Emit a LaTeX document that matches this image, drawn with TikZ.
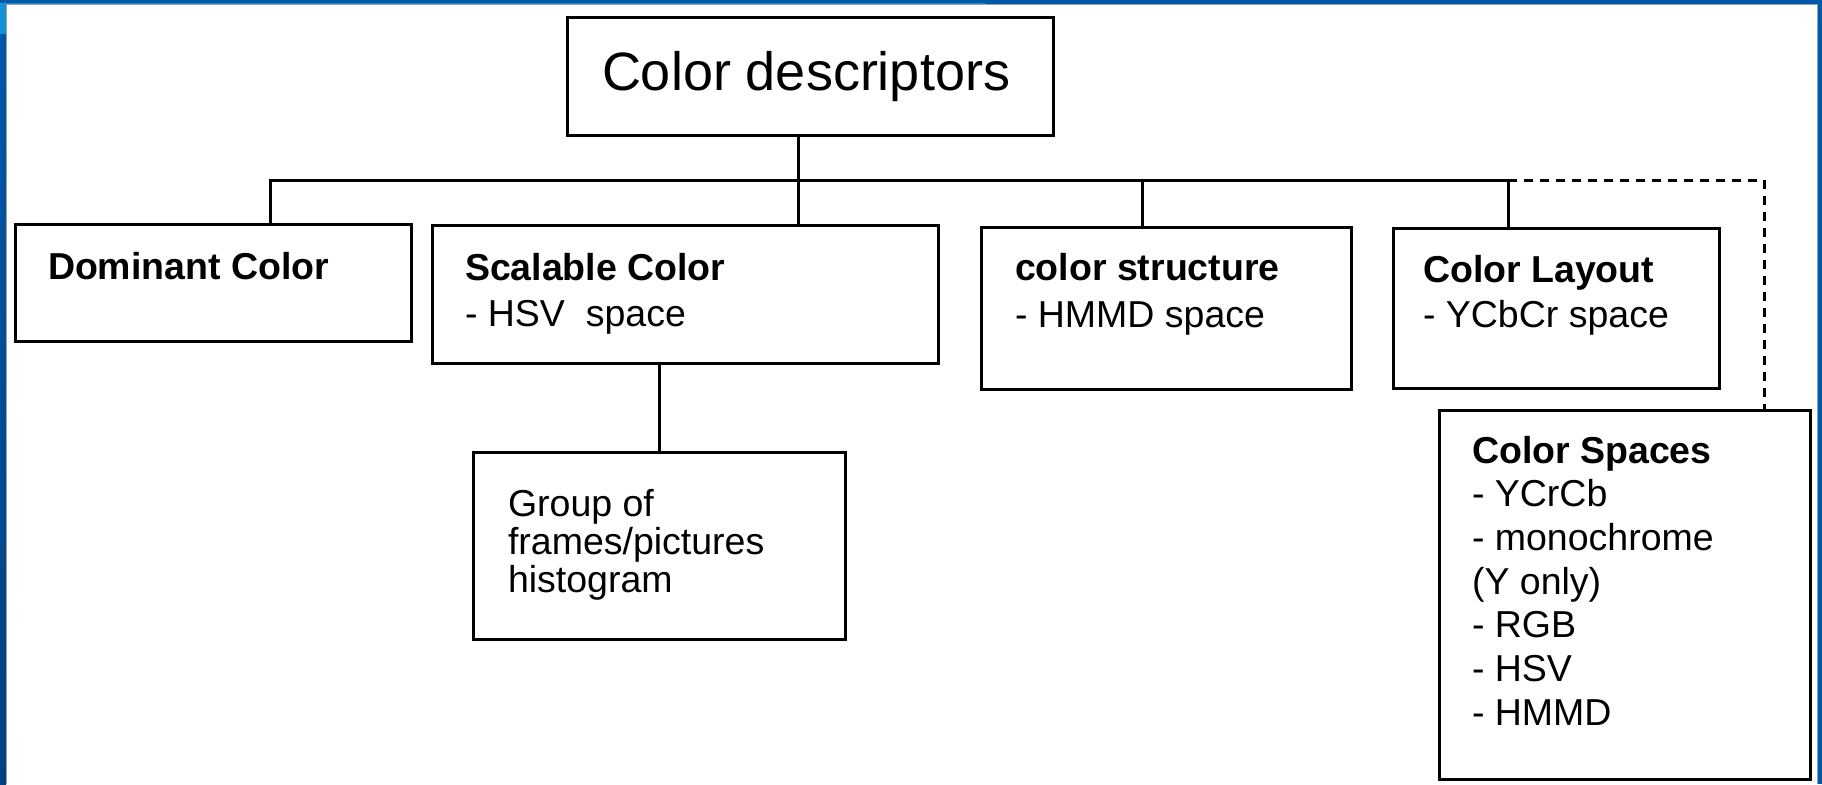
\documentclass[tikz,border=0pt]{standalone}
\usepackage{fontspec}
\setmainfont{Liberation Sans}
\usetikzlibrary{calc}
\definecolor{frameblue}{RGB}{0,88,168}
\definecolor{framelight}{RGB}{20,144,212}
\definecolor{framedark}{RGB}{0,64,128}
\definecolor{framegray}{RGB}{150,160,175}
\begin{document}
\begin{tikzpicture}[x=0.5pt,y=-0.5pt,
  box/.style={draw=black, line width=1.5pt, rectangle, inner sep=0pt, outer sep=0pt, anchor=north west},
  txt/.style={inner sep=0pt, outer sep=0pt, anchor=base west},
  conn/.style={draw=black, line width=1.5pt},
  dconn/.style={conn, dash pattern=on 4.5pt off 3.5pt}]
\useasboundingbox (0,0) rectangle (1822,784);
\fill[white] (0,0) rectangle (1822,784);
% window frame
\shade[top color=frameblue, bottom color=framedark] (0,0) rectangle (6,784);
\fill[framelight] (0,4) rectangle (6,34);
\fill[frameblue] (0,0) rectangle (1822,4);
\fill[framelight] (0,2.5) rectangle (985,4);
\fill[frameblue] (1818,0) rectangle (1822,784);
\draw[framegray, line width=0.4pt] (6.5,784) -- (6.5,4.5) -- (1817.5,4.5) -- (1817.5,784);

% boxes
\node[box, minimum width=243pt, minimum height=59pt] (desc) at (567,17) {};
\node[box, minimum width=198pt, minimum height=58.5pt] (dom) at (15,224) {};
\node[box, minimum width=253pt, minimum height=69pt] (scal) at (432,225) {};
\node[box, minimum width=185pt, minimum height=81pt] (stru) at (981,227) {};
\node[box, minimum width=163pt, minimum height=80pt] (lay) at (1393,228) {};
\node[box, minimum width=186pt, minimum height=93.5pt] (grp) at (473,452) {};
\node[box, minimum width=185.5pt, minimum height=184.5pt] (spc) at (1439,410) {};

% texts
\node[txt, font=\fontsize{27}{32}\selectfont] (tdesc) at (602,90) {Color descriptors};
\node[txt, font=\fontsize{18.75}{22}\selectfont] (tdom) at (48,279) {\textbf{Dominant Color}};
\node[txt, font=\fontsize{18.75}{23}\selectfont] (tscal) at (465,280)
  {\begin{tabular}[t]{@{}l@{}}\textbf{Scalable Color}\\- HSV\ \ space\end{tabular}};
\node[txt, font=\fontsize{18.75}{23.5}\selectfont] (tstru) at (1015,280)
  {\begin{tabular}[t]{@{}l@{}}\textbf{color structure}\\- HMMD space\end{tabular}};
\node[txt, font=\fontsize{18.75}{22.5}\selectfont] (tlay) at (1423,282)
  {\begin{tabular}[t]{@{}l@{}}\textbf{Color Layout}\\- YCbCr space\end{tabular}};
\node[txt, font=\fontsize{18.75}{18.75}\selectfont] (tgrp) at (508,516)
  {\begin{tabular}[t]{@{}l@{}}Group of\\frames/pictures\\histogram\end{tabular}};
\node[txt, font=\fontsize{18.75}{21.85}\selectfont] (tspc) at (1472,463)
  {\begin{tabular}[t]{@{}l@{}}\textbf{Color Spaces}\\- YCrCb\\- monochrome\\(Y only)\\- RGB\\- HSV\\- HMMD\end{tabular}};

% connector points
\coordinate (jL) at (270,180);
\coordinate (jC) at (798,180);
\coordinate (jS) at (1142,180);
\coordinate (jR) at (1508,180);
\coordinate (jD) at (1764,180);
\coordinate (jG) at (659,400);

% connectors
\draw[conn] (jC |- desc.south) -- (jC |- scal.north);
\draw[conn] (jL |- dom.north) -- (jL) -- (jR);
\draw[conn] (jS) -- (jS |- stru.north);
\draw[conn] (jR) -- (jR |- lay.north);
\draw[dconn] (jR) -- (jD) -- (jD |- spc.north);
\draw[conn] (jG |- scal.south) -- (jG |- grp.north);
\end{tikzpicture}
\end{document}
